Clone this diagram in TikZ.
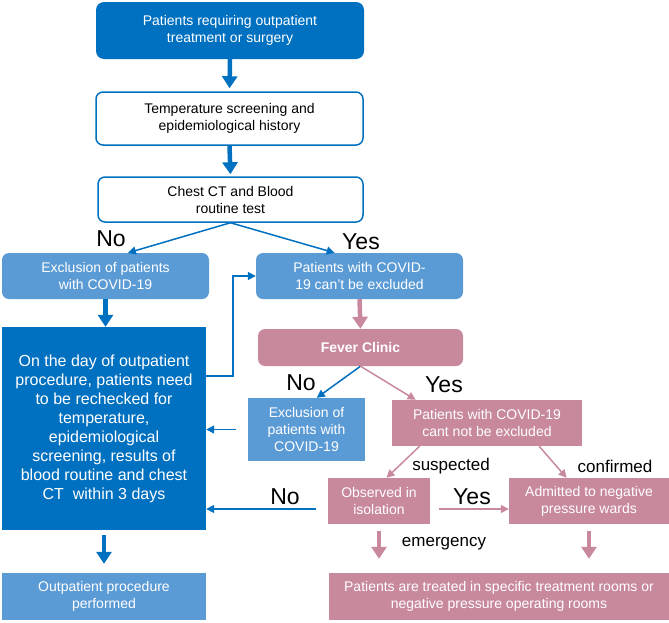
\documentclass[tikz,border=0pt]{standalone}
\usepackage{fontspec}
\setmainfont{Liberation Sans}
\usetikzlibrary{arrows.meta}
\definecolor{deepblue}{HTML}{0070C0}
\definecolor{paleblue}{HTML}{5B9BD5}
\definecolor{rose}{HTML}{C8899D}
\tikzstyle{box}=[inner sep=0pt,align=center,font=\fontsize{14}{17}\selectfont]
\tikzstyle{darkbox}=[box,fill=deepblue,text=white]
\tikzstyle{openbox}=[box,draw=deepblue,line width=1.5pt,fill=white,rounded corners=7pt]
\tikzstyle{lightbox}=[box,fill=paleblue,text=white]
\tikzstyle{rosebox}=[box,fill=rose,text=white]
\tikzstyle{yesno}=[font=\fontsize{23}{23}\selectfont]
\tikzstyle{tag}=[font=\fontsize{17}{17}\selectfont]
\tikzstyle{fat}=[line width=4.5pt,-{Triangle[width=15pt,length=12pt]}]
\tikzstyle{slim}=[line width=1.5pt,-{Triangle[width=8pt,length=8pt]}]

\begin{document}
\begin{tikzpicture}[x=1pt,y=-1pt]
  \useasboundingbox (0,0) rectangle (669,622);
  \node[darkbox,rounded corners=8pt,minimum width=268pt,minimum height=57pt] (patients) at (230,30.5) {Patients requiring outpatient\\treatment or surgery};
  \node[openbox,minimum width=267pt,minimum height=53pt] (screen) at (229.5,118.5) {Temperature screening and\\epidemiological history};
  \node[openbox,minimum width=265pt,minimum height=45pt] (chest) at (230.5,199.5) {Chest CT and Blood\\routine test};
  \node[lightbox,rounded corners=7pt,minimum width=207pt,minimum height=46pt] (exclA) at (105.5,276) {Exclusion of patients\\with COVID-19};
  \node[lightbox,rounded corners=7pt,minimum width=207pt,minimum height=46pt] (notexclA) at (359.5,276) {Patients with COVID-\\19 can't be excluded};
  \node[darkbox,minimum width=204pt,minimum height=203pt,font=\fontsize{16}{19}\selectfont] (recheck) at (104,428.5) {On the day of outpatient\\procedure, patients need\\to be rechecked for\\temperature,\\epidemiological\\screening, results of\\blood routine and chest\\CT\ \ within 3 days};
  \node[rosebox,rounded corners=7pt,minimum width=205pt,minimum height=37pt,font=\bfseries\fontsize{14}{17}\selectfont] (fever) at (360.5,347.5) {Fever Clinic};
  \node[lightbox,minimum width=117pt,minimum height=63pt] (exclB) at (306.5,429.5) {Exclusion of\\patients with\\COVID-19};
  \node[rosebox,minimum width=190pt,minimum height=46pt] (notexclB) at (487,423) {Patients with COVID-19\\cant not be excluded};
  \node[rosebox,minimum width=102pt,minimum height=46pt] (isolate) at (379,501) {Observed in\\isolation};
  \node[rosebox,minimum width=160pt,minimum height=46pt] (wards) at (589,501) {Admitted to negative\\pressure wards};
  \node[rosebox,minimum width=340pt,minimum height=47pt] (rooms) at (499,596.5) {Patients are treated in specific treatment rooms or\\negative pressure operating rooms};
  \node[lightbox,minimum width=204pt,minimum height=47pt] (done) at (104,596.5) {Outpatient procedure\\performed};

  \node[yesno] (no1) at (111,239) {No};
  \node[yesno] (yes1) at (361,242) {Yes};
  \node[yesno] (no2) at (301,383) {No};
  \node[yesno] (yes2) at (444,385) {Yes};
  \node[yesno] (yes3) at (472,497) {Yes};
  \node[yesno] (no3) at (285,497) {No};
  \node[tag] (susp) at (451,466) {suspected};
  \node[tag] (conf) at (615,466) {confirmed};
  \node[tag] (emerg) at (444,544) {emergency};

  \draw[fat,deepblue,shorten >=3pt] (patients.south) -- (screen.north);
  \draw[fat,deepblue,shorten >=2pt] (screen.south) -- (chest.north);
  \draw[slim,deepblue] (chest.south) -- (exclA.46);
  \draw[slim,deepblue] (chest.south) -- (notexclA.137);
  \draw[fat,deepblue] (exclA.south) -- (exclA.south |- recheck.north);
  \draw[slim,deepblue] ([yshift=52.5pt]recheck.east) -- ++(27,0) |- (notexclA.west);
  \draw[fat,rose] (notexclA.south) -- (fever.north);
  \draw[slim,deepblue] (fever.south) -- (exclB.72);
  \draw[slim,rose] (fever.south) -- (notexclB.162);
  \draw[slim,deepblue,shorten <=12pt] (exclB.west) -- (exclB.west -| recheck.east);
  \draw[slim,rose] (notexclB.199) -- (isolate.72);
  \draw[slim,rose] (notexclB.-24) -- (wards.134);
  \draw[slim,rose,shorten <=9pt] ([yshift=-8pt]isolate.east) -- ([yshift=-8pt]wards.west);
  \draw[slim,deepblue,shorten <=12pt] ([yshift=-8pt]isolate.west) -- ([yshift=-8pt]isolate.west -| recheck.east);
  \draw[fat,rose,shorten <=7pt,shorten >=14pt] (isolate.south) -- (isolate.south |- rooms.north);
  \draw[fat,rose,shorten <=7pt,shorten >=14pt] (wards.south) -- (wards.south |- rooms.north);
  \draw[fat,deepblue,shorten <=5pt,shorten >=9pt] (recheck.south) -- (recheck.south |- done.north);
\end{tikzpicture}
\end{document}
